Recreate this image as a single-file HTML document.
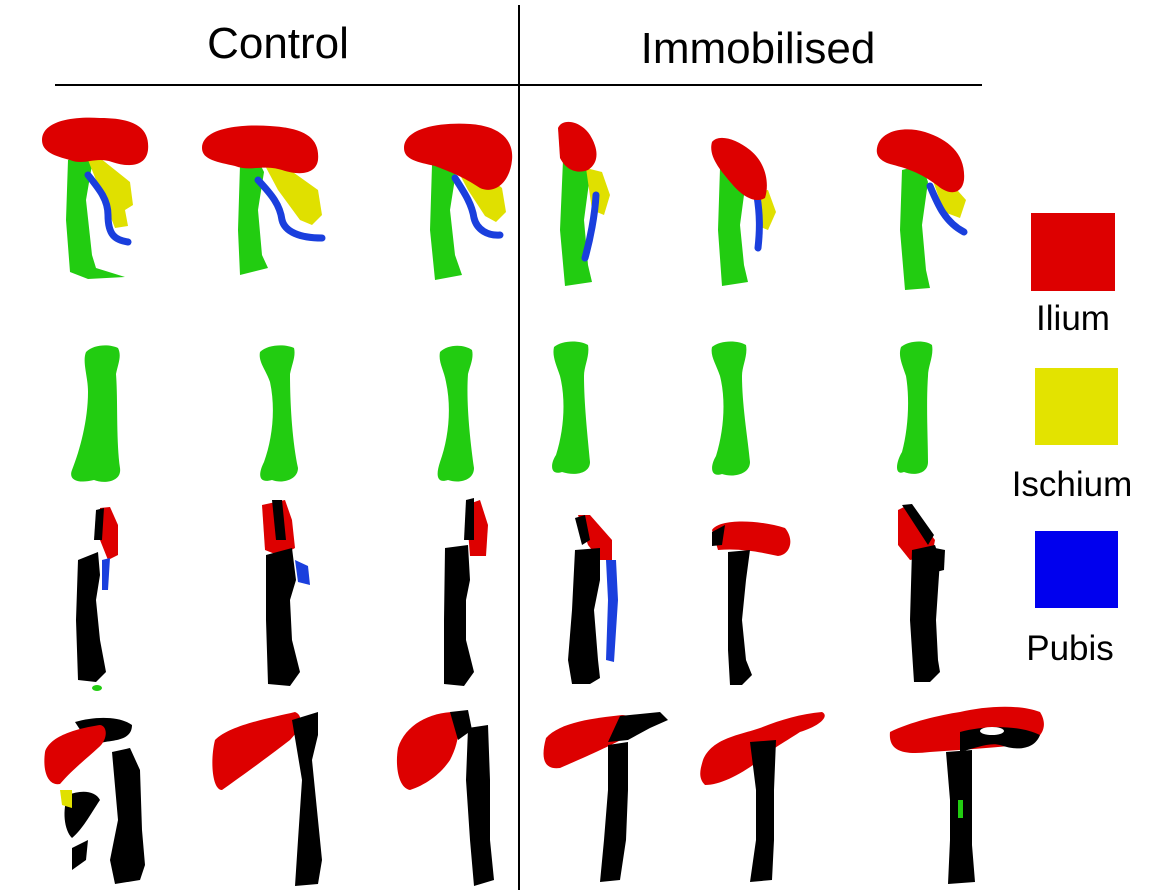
<!DOCTYPE html>
<html><head><meta charset="utf-8"><style>
html,body{margin:0;padding:0;background:#fff;}
svg{display:block;}
text{font-family:"Liberation Sans",Arial,sans-serif;fill:#000;}
</style></head><body>
<svg width="1154" height="895" viewBox="0 0 1154 895" xmlns="http://www.w3.org/2000/svg">
<text x="278" y="58" font-size="44" text-anchor="middle">Control</text>
<text x="758" y="63" font-size="44" text-anchor="middle">Immobilised</text>
<line x1="55" y1="85" x2="982" y2="85" stroke="#000" stroke-width="2"/>
<line x1="519" y1="5" x2="519" y2="890" stroke="#000" stroke-width="2"/>

<rect x="1031" y="213" width="84" height="78" fill="#dd0000"/>
<text x="1073" y="330" font-size="35" text-anchor="middle">Ilium</text>
<rect x="1035" y="368" width="83" height="77" fill="#e3e300"/>
<text x="1072" y="496" font-size="35" text-anchor="middle">Ischium</text>
<rect x="1035" y="531" width="83" height="77" fill="#0000ee"/>
<text x="1070" y="660" font-size="35" text-anchor="middle">Pubis</text>

<g>
<path d="M68,160 L86,152 L92,165 L86,200 L92,255 L96,268 L125,277 L88,279 L70,272 L66,220Z" fill="#22cc11"/>
<path d="M88,160 L100,158 L130,182 L133,205 L125,210 L128,226 L115,228 L100,190Z" fill="#e0e000"/>
<path d="M88,175 C100,190 108,200 108,215 C108,235 115,240 128,242" stroke="#1a3fdd" stroke-width="7" fill="none" stroke-linecap="round"/>
<path d="M42,140 C42,122 70,116 100,118 C135,118 150,128 148,150 C146,166 130,168 112,162 C95,156 85,166 70,160 C55,156 42,152 42,140Z" fill="#dd0000"/>
<path d="M240,165 L258,160 L264,172 L258,210 L262,255 L268,268 L240,275 L238,230Z" fill="#22cc11"/>
<path d="M262,160 L276,160 L318,190 L322,215 L312,225 L300,220 L278,190Z" fill="#e0e000"/>
<path d="M258,180 C272,195 280,205 282,220 C285,232 300,238 322,238" stroke="#1a3fdd" stroke-width="7" fill="none" stroke-linecap="round"/>
<path d="M202,148 C202,128 240,124 270,126 C305,128 320,138 318,160 C316,174 300,176 282,170 C262,164 250,172 235,166 C218,162 202,160 202,148Z" fill="#dd0000"/>
<path d="M432,165 L450,160 L456,172 L450,210 L455,255 L462,275 L435,280 L430,230Z" fill="#22cc11"/>
<path d="M452,160 L468,160 L502,188 L506,212 L496,222 L485,216 L468,190Z" fill="#e0e000"/>
<path d="M455,178 C466,195 472,205 474,218 C477,230 488,236 500,235" stroke="#1a3fdd" stroke-width="7" fill="none" stroke-linecap="round"/>
<path d="M404,148 C404,128 440,122 470,124 C500,126 514,140 512,160 C510,182 495,195 480,188 C462,176 450,172 435,166 C418,162 404,160 404,148Z" fill="#dd0000"/>
<path d="M563,160 L584,155 L590,175 L584,220 L588,265 L592,282 L565,286 L560,230Z" fill="#22cc11"/>
<path d="M586,168 L602,172 L610,195 L604,215 L592,210Z" fill="#e0e000"/>
<path d="M596,195 C595,215 590,240 585,258" stroke="#1a3fdd" stroke-width="7" fill="none" stroke-linecap="round"/>
<path d="M558,128 C562,118 580,120 590,135 C598,148 600,162 588,170 C575,175 565,168 560,158Z" fill="#dd0000"/>
<path d="M720,168 L740,162 L746,180 L740,225 L744,265 L748,282 L722,286 L718,230Z" fill="#22cc11"/>
<path d="M754,192 L768,190 L776,212 L768,230 L758,226Z" fill="#e0e000"/>
<path d="M757,196 C760,215 760,230 758,248" stroke="#1a3fdd" stroke-width="7" fill="none" stroke-linecap="round"/>
<path d="M712,142 C718,134 735,138 750,150 C765,162 770,182 765,198 C755,204 742,196 732,184 C720,170 708,156 712,142Z" fill="#dd0000"/>
<path d="M902,170 L922,165 L928,182 L922,225 L926,270 L930,288 L905,290 L900,230Z" fill="#22cc11"/>
<path d="M932,178 L950,182 L966,200 L960,218 L944,212Z" fill="#e0e000"/>
<path d="M930,186 C938,205 945,222 964,232" stroke="#1a3fdd" stroke-width="7" fill="none" stroke-linecap="round"/>
<path d="M877,148 C880,130 905,126 925,132 C950,140 966,155 964,180 C962,194 950,196 938,186 C920,172 905,168 890,164 C878,160 876,154 877,148Z" fill="#dd0000"/>
</g>

<g fill="#22cc11">
<path d="M86,352 C94,344 110,344 118,348 C122,356 118,364 116,374 C118,400 116,440 120,468 C122,482 104,484 94,480 C78,484 68,480 72,470 C80,450 88,420 88,392 C88,376 82,362 86,352Z"/>
<path d="M260,352 C268,344 286,344 294,348 C296,356 292,364 290,374 C290,402 292,440 298,468 C298,480 282,484 272,480 C258,484 258,474 264,462 C272,440 276,410 270,382 C266,370 258,362 260,352Z"/>
<path d="M440,352 C448,344 464,344 472,350 C474,358 470,366 468,374 C466,402 470,440 474,468 C474,480 460,484 448,480 C436,484 436,474 440,462 C448,440 452,410 446,382 C444,370 438,362 440,352Z"/>
<path d="M554,347 C562,340 580,340 588,345 C590,356 584,366 584,376 C584,405 588,440 590,462 C590,474 574,476 562,472 C550,476 550,464 556,455 C564,430 566,400 560,376 C556,364 552,356 554,347Z"/>
<path d="M712,347 C720,340 738,340 746,345 C748,356 742,366 742,376 C742,405 748,440 750,462 C750,474 734,478 722,474 C710,478 710,466 716,456 C724,430 726,400 720,376 C716,364 710,356 712,347Z"/>
<path d="M901,347 C909,340 926,340 932,345 C934,356 928,366 928,376 C926,405 928,440 928,462 C928,474 914,476 904,472 C894,476 896,462 902,452 C908,430 910,400 906,376 C902,364 898,356 901,347Z"/>
</g>

<g>
<path d="M100,508 L110,507 L118,525 L118,555 L108,560 L100,540Z" fill="#dd0000"/>
<path d="M96,510 L104,508 L102,540 L94,540Z" fill="#000"/>
<path d="M102,560 L110,558 L108,590 L102,590Z" fill="#1a3fdd"/>
<path d="M78,560 L98,552 L100,575 L96,600 L100,640 L106,672 L96,682 L78,680 L76,620Z" fill="#000"/>
<ellipse cx="97" cy="688" rx="5" ry="3" fill="#22cc11"/>
<path d="M262,505 L285,500 L292,520 L295,548 L280,556 L265,550Z" fill="#dd0000"/>
<path d="M272,500 L282,500 L286,540 L276,540Z" fill="#000"/>
<path d="M295,560 L308,566 L310,585 L298,582Z" fill="#1a3fdd"/>
<path d="M266,555 L292,548 L296,580 L290,600 L292,640 L300,672 L290,686 L268,684 L266,620Z" fill="#000"/>
<path d="M466,505 L480,500 L488,525 L486,556 L470,556Z" fill="#dd0000"/>
<path d="M466,500 L474,498 L474,540 L464,540Z" fill="#000"/>
<path d="M445,548 L468,545 L470,580 L466,600 L466,640 L474,672 L464,686 L444,684 L444,620Z" fill="#000"/>
<path d="M578,515 L590,515 L612,540 L612,560 L600,560 L588,545Z" fill="#dd0000"/>
<path d="M575,518 L585,515 L590,540 L582,545Z" fill="#000"/>
<path d="M606,560 L616,560 L618,600 L614,662 L606,660 L608,600Z" fill="#1a3fdd"/>
<path d="M575,550 L600,548 L600,580 L594,610 L598,660 L600,678 L590,684 L572,684 L568,660 L572,610Z" fill="#000"/>
<path d="M712,530 C720,518 760,520 785,528 C795,540 790,555 778,556 C760,552 740,548 718,550Z" fill="#dd0000"/>
<path d="M712,532 L725,525 L722,545 L712,546Z" fill="#000"/>
<path d="M728,552 L750,550 L746,580 L742,620 L746,660 L752,675 L742,685 L730,685 L728,650Z" fill="#000"/>
<path d="M898,510 L908,505 L935,540 L932,556 L910,560 L898,545Z" fill="#dd0000"/>
<path d="M902,505 L912,504 L934,535 L928,545Z" fill="#000"/>
<path d="M912,550 L935,545 L940,560 L936,620 L938,660 L940,672 L930,682 L914,682 L910,620Z" fill="#000"/>
<path d="M935,548 L945,550 L944,570 L936,572Z" fill="#000"/>
</g>

<g>
<path d="M75,722 C95,716 120,716 132,725 C132,740 115,740 105,742 L90,745Z" fill="#000"/>
<path d="M45,752 C50,735 80,728 100,725 C108,726 108,740 98,748 C85,760 72,770 60,784 C50,786 42,775 45,752Z" fill="#dd0000"/>
<path d="M112,752 L130,748 L140,770 L142,830 L145,865 L140,880 L115,884 L110,860 L118,820Z" fill="#000"/>
<path d="M68,795 C80,790 95,790 100,800 C90,815 82,830 72,838 C64,830 62,810 68,795Z" fill="#000"/>
<path d="M72,848 L88,840 L86,860 L72,870Z" fill="#000"/>
<path d="M60,790 L72,790 L72,808 L62,805Z" fill="#e0e000"/>
<path d="M215,740 C230,725 270,718 295,712 C305,716 300,730 290,740 C272,754 250,770 222,790 C212,790 210,760 215,740Z" fill="#dd0000"/>
<path d="M292,720 L318,712 L318,735 L312,760 L318,820 L322,860 L318,884 L295,886 L298,840 L302,780Z" fill="#000"/>
<path d="M398,748 C405,725 430,712 455,712 C462,725 458,745 450,760 C440,775 425,785 410,790 C398,788 395,765 398,748Z" fill="#dd0000"/>
<path d="M450,712 L468,710 L472,730 L458,740Z" fill="#000"/>
<path d="M468,728 L488,725 L490,780 L490,840 L494,880 L474,886 L470,840 L466,780Z" fill="#000"/>
<path d="M546,738 C560,722 595,718 622,715 C640,716 640,728 625,738 C605,748 590,755 560,768 C545,770 540,760 546,738Z" fill="#dd0000"/>
<path d="M620,716 L660,712 L668,720 L650,728 L628,740 L608,742Z" fill="#000"/>
<path d="M608,745 L628,742 L628,790 L626,840 L620,880 L600,882 L604,840 L608,790Z" fill="#000"/>
<path d="M703,760 C712,738 740,735 760,728 C780,720 800,714 822,712 C830,716 820,726 800,732 C780,745 770,750 760,760 C740,775 720,785 705,785 C698,778 700,770 703,760Z" fill="#dd0000"/>
<path d="M750,742 L776,740 L774,790 L774,840 L772,880 L750,882 L756,840 L756,790Z" fill="#000"/>
<path d="M890,732 C910,722 940,715 960,712 C985,706 1020,704 1040,712 C1050,728 1040,742 1020,745 C990,748 960,750 930,752 C905,755 888,752 890,732Z" fill="#dd0000"/>
<path d="M960,732 C985,725 1020,725 1040,735 C1035,748 1020,752 1000,745 C990,742 975,748 960,752Z" fill="#000"/>
<ellipse cx="992" cy="731" rx="12" ry="4" fill="#fff"/>
<path d="M946,752 L972,750 L972,800 L972,845 L975,882 L948,884 L950,840 L950,800Z" fill="#000"/>
<rect x="958" y="800" width="5" height="18" fill="#22cc11"/>
</g>
</svg>
</body></html>
